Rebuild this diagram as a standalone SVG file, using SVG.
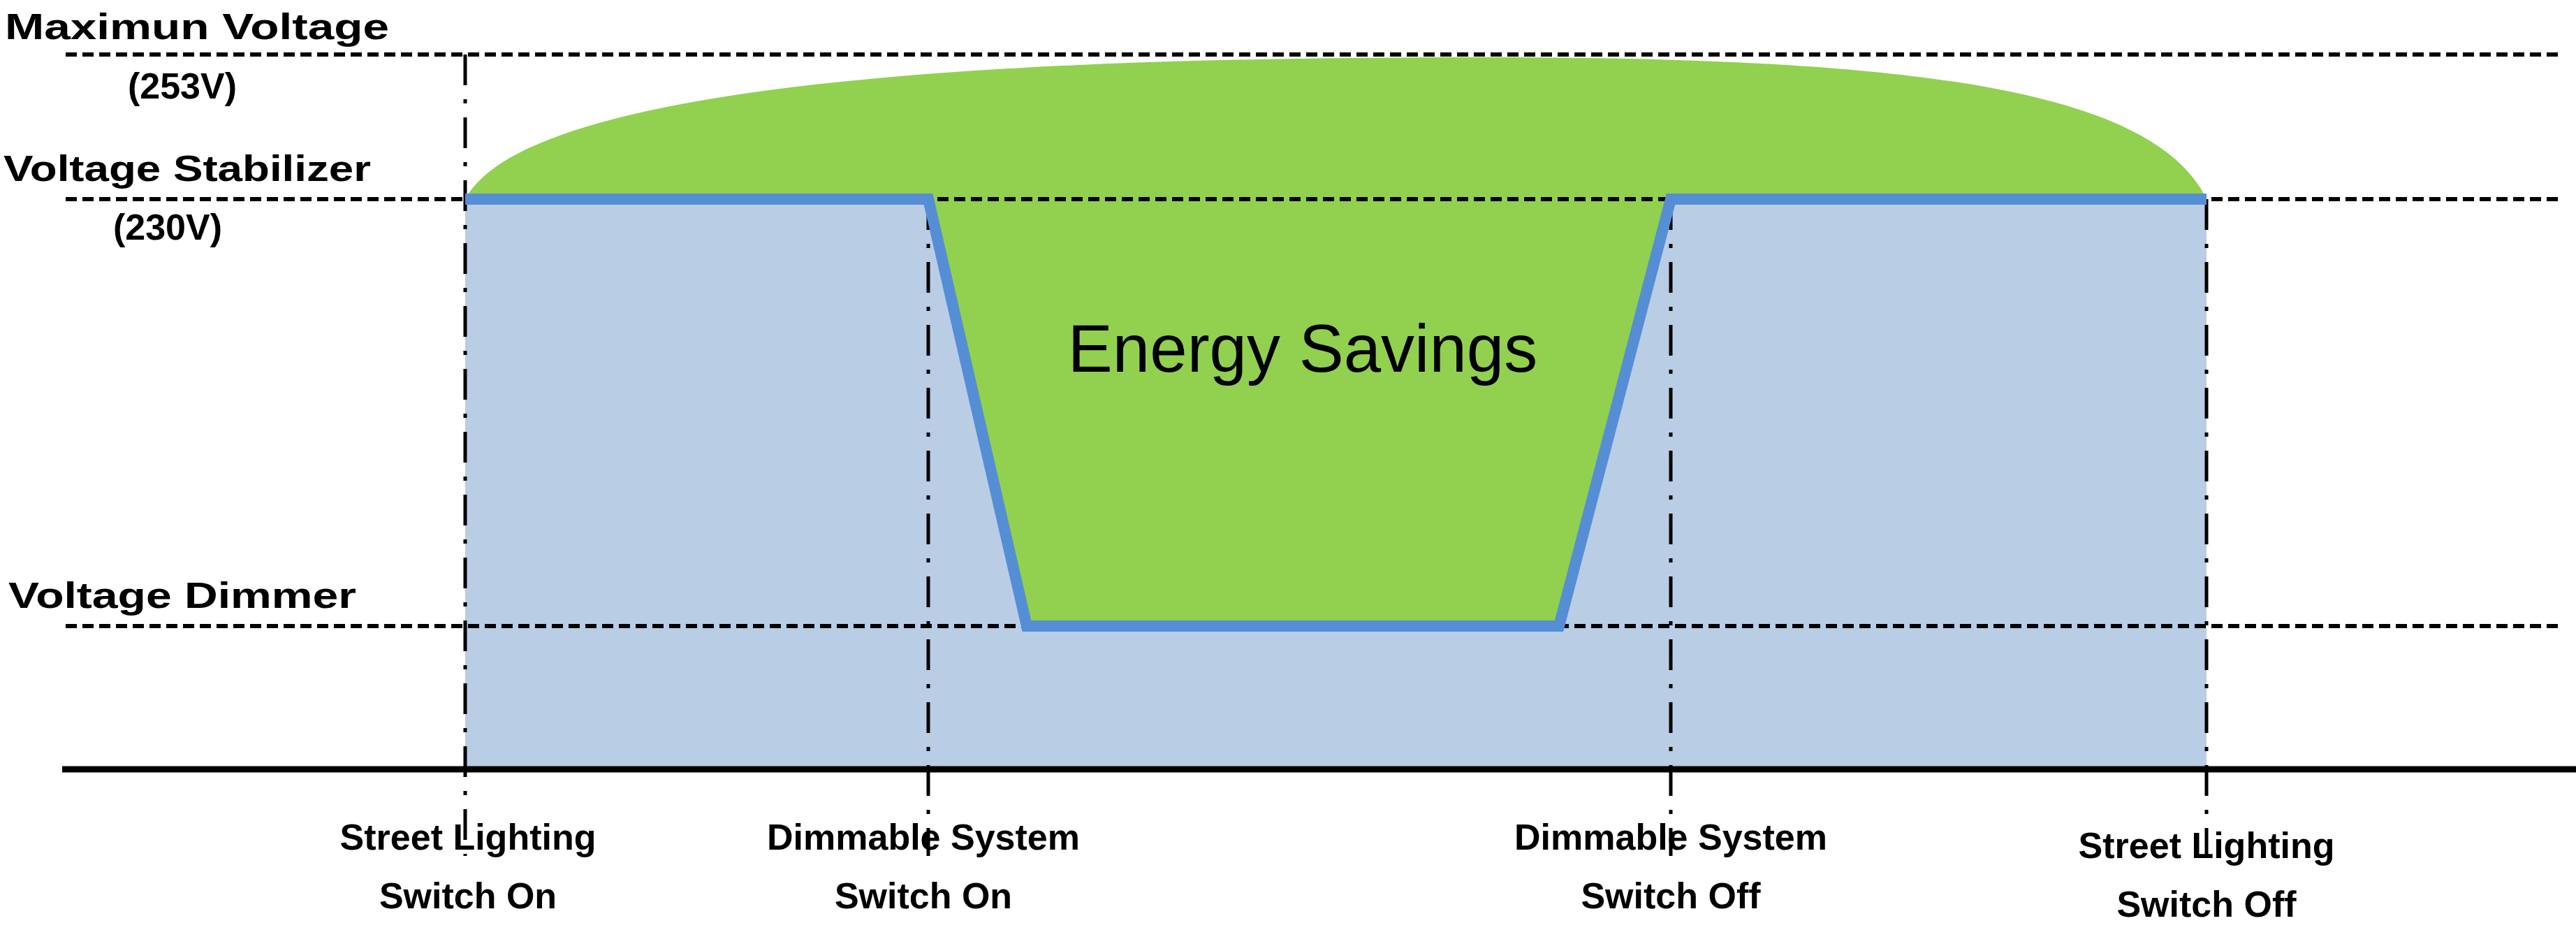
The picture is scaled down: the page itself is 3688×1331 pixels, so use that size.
<svg xmlns="http://www.w3.org/2000/svg" width="3688" height="1331" viewBox="0 0 3688 1331">
<style>
.lbl{font-family:"Liberation Sans Narrow","Liberation Sans",Arial,sans-serif;font-weight:bold;font-size:52px;fill:#000}
.c{text-anchor:middle}
.h{stroke:#000;stroke-width:6;stroke-dasharray:16 8;fill:none}
.v{stroke:#000;stroke-width:5;stroke-dasharray:44 20 6 20;fill:none}
</style>
<rect width="3688" height="1331" fill="#fff"/>
<g id="areas">
<rect x="666" y="285" width="2493" height="813" fill="#B9CDE5"/>
<path d="M666,285 C760,110 1500,82 2117,82 C2700,82 3080,120 3159,285 Z" fill="#92D050"/>
<path d="M1329,285 L1470,896 L2232,896 L2392,285 Z" fill="#92D050"/>
</g>
<g id="connectors">
<line class="h" x1="94" y1="78" x2="3669" y2="78"/>
<line class="h" x1="94" y1="285" x2="3669" y2="285"/>
<line class="h" x1="94" y1="896" x2="3669" y2="896"/>
<line class="v" x1="666" y1="78" x2="666" y2="1225"/>
<line class="v" x1="1329" y1="285" x2="1329" y2="1225"/>
<line class="v" x1="2392" y1="285" x2="2392" y2="1225"/>
<line class="v" x1="3159" y1="285" x2="3159" y2="1225"/>
<polyline points="666,285 1329,285 1470,896 2232,896 2392,285 3159,285" fill="none" stroke="#558ED5" stroke-width="16" stroke-linejoin="miter"/>
<line x1="89" y1="1101" x2="3688" y2="1101" stroke="#000" stroke-width="9"/>
</g>
<g id="labels">
<text class="lbl" x="7" y="56" textLength="550" lengthAdjust="spacingAndGlyphs">Maximun Voltage</text>
<text class="lbl c" x="261" y="141">(253V)</text>
<text class="lbl" x="5" y="259" textLength="526" lengthAdjust="spacingAndGlyphs">Voltage Stabilizer</text>
<text class="lbl c" x="240" y="343">(230V)</text>
<text class="lbl" x="12" y="870" textLength="498" lengthAdjust="spacingAndGlyphs">Voltage Dimmer</text>
<text x="1865" y="532" text-anchor="middle" font-family="Liberation Sans, Arial, sans-serif" font-size="96" fill="#000">Energy Savings</text>
<text class="lbl c" x="670" y="1216">Street Lighting</text>
<text class="lbl c" x="670" y="1300">Switch On</text>
<text class="lbl c" x="1322" y="1216">Dimmable System</text>
<text class="lbl c" x="1322" y="1300">Switch On</text>
<text class="lbl c" x="2392" y="1216">Dimmable System</text>
<text class="lbl c" x="2392" y="1300">Switch Off</text>
<text class="lbl c" x="3159" y="1228">Street Lighting</text>
<text class="lbl c" x="3159" y="1312">Switch Off</text>
</g>
</svg>
